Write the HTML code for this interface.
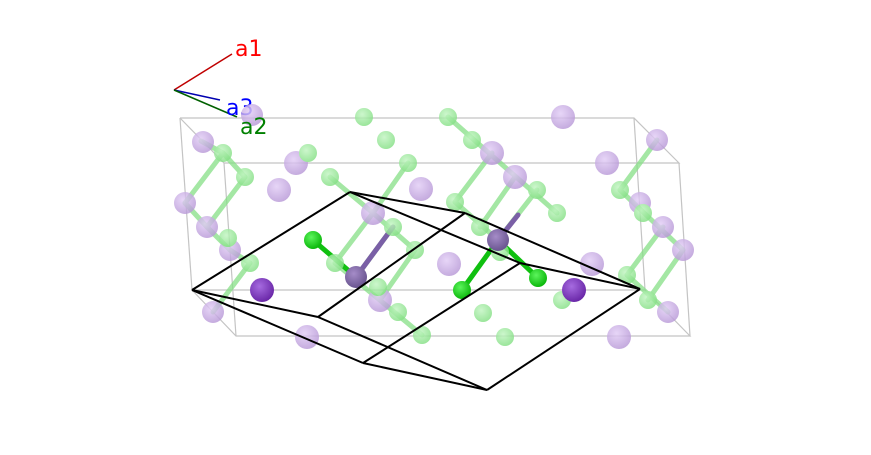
<!DOCTYPE html>
<html><head><meta charset="utf-8"><style>
html,body{margin:0;padding:0;background:#fff;}
svg{display:block;}
text{font-family:"DejaVu Sans","Liberation Sans",sans-serif;font-size:22px;}
</style></head><body>
<svg width="871" height="455" viewBox="0 0 871 455" xmlns="http://www.w3.org/2000/svg">
<defs>
<radialGradient id="lp" cx="40%" cy="35%" r="65%"><stop offset="0" stop-color="#e2cdf6"/><stop offset="1" stop-color="#b99ad8"/></radialGradient>
<radialGradient id="lg" cx="40%" cy="35%" r="65%"><stop offset="0" stop-color="#c2f5c2"/><stop offset="1" stop-color="#86e086"/></radialGradient>
<radialGradient id="dk" cx="40%" cy="35%" r="65%"><stop offset="0" stop-color="#a66be0"/><stop offset="1" stop-color="#6a28a8"/></radialGradient>
<radialGradient id="dp" cx="40%" cy="35%" r="65%"><stop offset="0" stop-color="#a58cc8"/><stop offset="1" stop-color="#6a5590"/></radialGradient>
<radialGradient id="sg" cx="40%" cy="35%" r="65%"><stop offset="0" stop-color="#5cf55c"/><stop offset="1" stop-color="#0cb80c"/></radialGradient>
</defs>

<!-- axes -->
<line x1="174" y1="90" x2="232" y2="54" stroke="#c00000" stroke-width="1.5"/>
<line x1="174" y1="90" x2="220" y2="100" stroke="#0000b0" stroke-width="1.5"/>
<line x1="174" y1="90" x2="237" y2="117" stroke="#006000" stroke-width="1.5"/>
<text x="235" y="56" fill="#ff0000">a1</text>
<text x="226" y="115" fill="#0000ff">a3</text>

<!-- box -->
<g stroke="#c4c4c4" stroke-width="1.2" fill="none">
<polyline points="180,118 634,118 679,163 224,163 180,118"/>
<polyline points="192,290 645,290 690,336 236,336 192,290"/>
<line x1="180" y1="118" x2="192" y2="290"/>
<line x1="634" y1="118" x2="645" y2="290"/>
<line x1="224" y1="163" x2="236" y2="336"/>
<line x1="679" y1="163" x2="690" y2="336"/>
</g>

<!-- bonds -->
<g stroke-width="5" stroke-linecap="round" opacity="0.75">
<g stroke="#86e086">
<line x1="201" y1="141" x2="223" y2="153"/><line x1="223" y1="153" x2="245" y2="177"/>
<line x1="223" y1="153" x2="185" y2="203"/><line x1="245" y1="177" x2="207" y2="227"/>
<line x1="207" y1="227" x2="230" y2="250"/><line x1="230" y1="250" x2="250" y2="263"/>
<line x1="250" y1="263" x2="213" y2="312"/><line x1="185" y1="203" x2="207" y2="227"/>
<line x1="330" y1="177" x2="373" y2="213"/><line x1="373" y1="213" x2="415" y2="250"/>
<line x1="408" y1="163" x2="373" y2="213"/><line x1="373" y1="213" x2="335" y2="263"/>
<line x1="393" y1="227" x2="356" y2="277"/><line x1="415" y1="250" x2="380" y2="300"/>
<line x1="335" y1="263" x2="422" y2="335"/>
<line x1="448" y1="117" x2="557" y2="213"/>
<line x1="455" y1="202" x2="498" y2="240"/><line x1="455" y1="202" x2="492" y2="153"/>
<line x1="480" y1="227" x2="515" y2="177"/><line x1="498" y1="240" x2="537" y2="190"/>
<line x1="657" y1="140" x2="620" y2="190"/><line x1="620" y1="190" x2="683" y2="250"/>
<line x1="663" y1="227" x2="627" y2="275"/><line x1="683" y1="250" x2="648" y2="300"/>
<line x1="627" y1="275" x2="668" y2="312"/>
</g>
</g>
<g stroke-width="5" stroke-linecap="round">
<line x1="313" y1="240" x2="356" y2="277" stroke="#10c010"/>
<line x1="356" y1="277" x2="393" y2="227" stroke="#7a5fa6"/>
<line x1="498" y1="240" x2="538" y2="278" stroke="#10c010"/>
<line x1="498" y1="240" x2="462" y2="290" stroke="#10c010"/>
<line x1="498" y1="240" x2="518" y2="215" stroke="#7a5fa6"/>
</g>

<!-- light atoms -->
<g opacity="0.82">
<g fill="url(#lp)">
<circle cx="563" cy="117" r="12"/><circle cx="296" cy="163" r="12"/><circle cx="279" cy="190" r="12"/>
<circle cx="421" cy="189" r="12"/><circle cx="607" cy="163" r="12"/><circle cx="449" cy="264" r="12"/>
<circle cx="592" cy="264" r="12"/><circle cx="307" cy="337" r="12"/><circle cx="619" cy="337" r="12"/>
<circle cx="203" cy="142" r="11"/><circle cx="185" cy="203" r="11"/><circle cx="207" cy="227" r="11"/>
<circle cx="230" cy="250" r="11"/><circle cx="213" cy="312" r="11"/><circle cx="252" cy="115" r="11"/>
<circle cx="373" cy="213" r="12"/><circle cx="380" cy="300" r="12"/>
<circle cx="492" cy="153" r="12"/><circle cx="515" cy="177" r="12"/>
<circle cx="657" cy="140" r="11"/><circle cx="640" cy="203" r="11"/><circle cx="663" cy="227" r="11"/>
<circle cx="683" cy="250" r="11"/><circle cx="668" cy="312" r="11"/>
</g>
<g fill="url(#lg)">
<circle cx="364" cy="117" r="9"/><circle cx="448" cy="117" r="9"/><circle cx="386" cy="140" r="9"/>
<circle cx="308" cy="153" r="9"/><circle cx="223" cy="153" r="9"/><circle cx="245" cy="177" r="9"/>
<circle cx="228" cy="238" r="9"/><circle cx="250" cy="263" r="9"/>
<circle cx="330" cy="177" r="9"/><circle cx="408" cy="163" r="9"/><circle cx="393" cy="227" r="9"/>
<circle cx="415" cy="250" r="9"/><circle cx="335" cy="263" r="9"/><circle cx="378" cy="287" r="9"/>
<circle cx="398" cy="312" r="9"/><circle cx="422" cy="335" r="9"/>
<circle cx="472" cy="140" r="9"/><circle cx="537" cy="190" r="9"/><circle cx="557" cy="213" r="9"/>
<circle cx="455" cy="202" r="9"/><circle cx="480" cy="227" r="9"/><circle cx="500" cy="252" r="9"/>
<circle cx="483" cy="313" r="9"/><circle cx="505" cy="337" r="9"/><circle cx="562" cy="300" r="9"/>
<circle cx="620" cy="190" r="9"/><circle cx="643" cy="213" r="9"/><circle cx="627" cy="275" r="9"/><circle cx="648" cy="300" r="9"/>
</g>
</g>

<!-- solid atoms -->
<circle cx="262" cy="290" r="12" fill="url(#dk)"/>
<circle cx="574" cy="290" r="12" fill="url(#dk)"/>
<circle cx="356" cy="277" r="11" fill="url(#dp)"/>
<circle cx="498" cy="240" r="11" fill="url(#dp)"/>
<circle cx="313" cy="240" r="9" fill="url(#sg)"/>
<circle cx="462" cy="290" r="9" fill="url(#sg)"/>
<circle cx="538" cy="278" r="9" fill="url(#sg)"/>

<text x="240" y="134" fill="#008000">a2</text>

<!-- cell -->
<g stroke="#000" stroke-width="2" fill="none" stroke-linejoin="round">
<line x1="192" y1="290" x2="350" y2="192"/>
<line x1="192" y1="290" x2="318" y2="317"/>
<line x1="192" y1="290" x2="363" y2="363"/>
<line x1="350" y1="192" x2="465" y2="213"/>
<line x1="350" y1="192" x2="520" y2="263"/>
<line x1="318" y1="317" x2="465" y2="213"/>
<line x1="363" y1="363" x2="520" y2="263"/>
<line x1="318" y1="317" x2="487" y2="390"/>
<line x1="363" y1="363" x2="487" y2="390"/>
<line x1="465" y1="213" x2="640" y2="289"/>
<line x1="520" y1="263" x2="640" y2="289"/>
<line x1="487" y1="390" x2="640" y2="289"/>
</g>
</svg>
</body></html>
